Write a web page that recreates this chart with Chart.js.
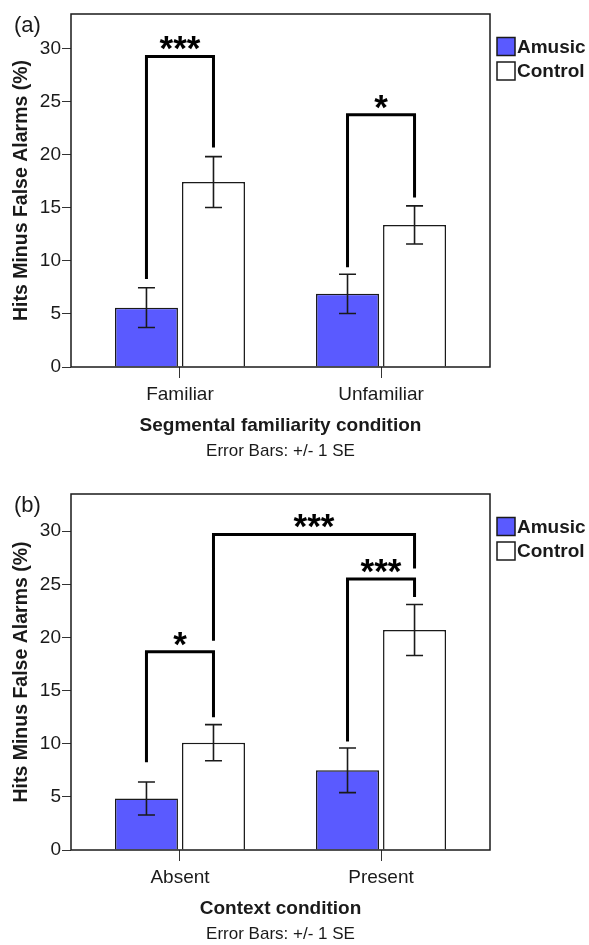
<!DOCTYPE html>
<html>
<head>
<meta charset="utf-8">
<script src="https://cdn.jsdelivr.net/npm/chart.js@4.4.1/dist/chart.umd.min.js"></script>
<style>
    html, body { margin: 0; padding: 0; background: #fff; overflow: hidden; }
    .panel { position: relative; width: 589px; }
    #panel-a { height: 470px; }
    #panel-b { height: 475px; }
</style>
</head>
<body>
<div class="panel" id="panel-a"><canvas id="chart-a"></canvas></div>
<div class="panel" id="panel-b"><canvas id="chart-b"></canvas></div>
<script>
/*===============
data
====================*/
const seriesNames = ['Amusic', 'Control'];
const yTicks = [0, 5, 10, 15, 20, 25, 30];

// (a) segmental familiarity
const catsA = ['Familiar', 'Unfamiliar'];
const amusicA = [5.6, 6.9];
const controlA = [17.45, 13.4];
const amusicSeA = [1.87, 1.85];
const controlSeA = [2.4, 1.8];
// [cat, series] -> [cat, series], left foot, top, right foot, stars
const bracketsA = [
    [0, 0, 0, 1, 8.3, 29.3, 20.7, '***'],
    [1, 0, 1, 1, 9.4, 23.8, 16.0, '*']
];

// (b) context
const catsB = ['Absent', 'Present'];
const amusicB = [4.85, 7.5];
const controlB = [10.1, 20.7];
const amusicSeB = [1.55, 2.1];
const controlSeB = [1.7, 2.4];
const bracketsB = [
    [0, 0, 0, 1, 8.25, 18.65, 12.5, '*'],
    [0, 1, 1, 1, 19.7, 29.7, 26.5, '***'],
    [1, 0, 1, 1, 10.2, 25.5, 23.8, '***']
];

Chart.defaults.font.family = "'Liberation Sans', Arial, sans-serif";
Chart.defaults.color = '#1a1a1a';

/*===============
overlay: frame, error bars, brackets, legend, panel letter
====================*/
const overlay = {
    id: 'overlay',
    afterDatasetsDraw(chart, args, opts) {
        const { ctx, chartArea: a, scales: { y } } = chart;
        ctx.save();

        // box round the plot
        ctx.strokeStyle = '#1a1a1a';
        ctx.lineWidth = 1.5;
        ctx.strokeRect(a.left, a.top, a.right - a.left, a.bottom - a.top);

        // error bars +/- 1 SE
        ctx.lineWidth = 1.6;
        opts.se.forEach((se, di) => {
            chart.getDatasetMeta(di).data.forEach((bar, i) => {
                const v = chart.data.datasets[di].data[i].y;
                const hi = y.getPixelForValue(v + se[i]);
                const lo = y.getPixelForValue(v - se[i]);
                ctx.beginPath();
                ctx.moveTo(bar.x, hi); ctx.lineTo(bar.x, lo);
                ctx.moveTo(bar.x - 8.5, hi); ctx.lineTo(bar.x + 8.5, hi);
                ctx.moveTo(bar.x - 8.5, lo); ctx.lineTo(bar.x + 8.5, lo);
                ctx.stroke();
            });
        });

        // significance brackets
        ctx.strokeStyle = '#000';
        ctx.lineWidth = 3;
        ctx.lineJoin = 'miter';
        ctx.font = "bold 35px 'Liberation Sans', Arial, sans-serif";
        ctx.fillStyle = '#000';
        ctx.textAlign = 'center';
        ctx.textBaseline = 'alphabetic';
        opts.brackets.forEach(b => {
            const x1 = chart.getDatasetMeta(b[1]).data[b[0]].x;
            const x2 = chart.getDatasetMeta(b[3]).data[b[2]].x;
            const yTop = y.getPixelForValue(b[5]);
            ctx.beginPath();
            ctx.moveTo(x1, y.getPixelForValue(b[4]));
            ctx.lineTo(x1, yTop);
            ctx.lineTo(x2, yTop);
            ctx.lineTo(x2, y.getPixelForValue(b[6]));
            ctx.stroke();
            const m = ctx.measureText(b[7]);
            const mid = yTop - 13;
            ctx.fillText(b[7], (x1 + x2) / 2, mid + (m.actualBoundingBoxAscent - m.actualBoundingBoxDescent) / 2);
        });

        // legend outside the box
        ctx.font = "bold 19px 'Liberation Sans', Arial, sans-serif";
        ctx.textAlign = 'left';
        ctx.textBaseline = 'middle';
        ctx.lineWidth = 1.5;
        chart.data.datasets.forEach((ds, i) => {
            const top = a.top + 23.5 + i * 24.5;
            ctx.fillStyle = ds.backgroundColor;
            ctx.fillRect(a.right + 7, top, 18, 18);
            ctx.strokeStyle = '#1a1a1a';
            ctx.strokeRect(a.right + 7, top, 18, 18);
            ctx.fillStyle = '#1a1a1a';
            ctx.fillText(ds.label, a.right + 27, top + 10);
        });

        // panel letter
        ctx.font = "22px 'Liberation Sans', Arial, sans-serif";
        ctx.textBaseline = 'alphabetic';
        ctx.fillText(opts.letter, 14, a.top + 18);

        ctx.restore();
    }
};

/*===============
panel builder
====================*/
function makePanel(canvasId, cats, amusic, control, seA, seC, brackets, letter, xTitle, yMax, pad) {
    new Chart(document.getElementById(canvasId), {
        type: 'bar',
        data: {
            datasets: [
                {
                    label: seriesNames[0],
                    data: amusic.map((v, i) => ({ x: i, y: v })),
                    backgroundColor: '#5a5aff',
                    borderColor: '#1a1a1a',
                    borderWidth: 1.5
                },
                {
                    label: seriesNames[1],
                    data: control.map((v, i) => ({ x: i, y: v })),
                    backgroundColor: '#ffffff',
                    borderColor: '#1a1a1a',
                    borderWidth: 1.5
                }
            ]
        },
        options: {
            responsive: true,
            maintainAspectRatio: false,
            animation: false,
            categoryPercentage: 0.6667,
            barPercentage: 0.94,
            layout: { padding: pad },
            plugins: {
                legend: { display: false },
                tooltip: { enabled: false },
                title: {
                    display: true,
                    position: 'bottom',
                    fullSize: false,
                    text: 'Error Bars: +/- 1 SE',
                    font: { size: 17, weight: 'normal' },
                    color: '#1a1a1a',
                    padding: { top: 4, bottom: 0 }
                },
                overlay: { se: [seA, seC], brackets: brackets, letter: letter }
            },
            scales: {
                x: {
                    type: 'linear',
                    min: -0.542,
                    max: cats.length - 1 + 0.542,
                    offset: false,
                    afterBuildTicks: s => { s.ticks = cats.map((c, i) => ({ value: i })); },
                    ticks: {
                        callback: v => cats[v],
                        font: { size: 19 },
                        padding: 5
                    },
                    grid: { offset: false, drawOnChartArea: false, tickLength: 11, color: '#333' },
                    border: { display: false },
                    title: {
                        display: true,
                        text: xTitle,
                        font: { size: 19, weight: 'bold' },
                        padding: { top: 4, bottom: 0 }
                    }
                },
                y: {
                    min: 0,
                    max: yMax,
                    afterBuildTicks: s => { s.ticks = yTicks.map(v => ({ value: v })); },
                    afterFit: s => { s.width = 71; },
                    ticks: { font: { size: 19 }, padding: 1 },
                    grid: { drawOnChartArea: false, tickLength: 9, color: '#333' },
                    border: { display: false },
                    title: {
                        display: true,
                        text: 'Hits Minus False Alarms (%)',
                        font: { size: 19.5, weight: 'bold' },
                        padding: { top: 9.5, bottom: 0 }
                    }
                }
            }
        },
        plugins: [overlay]
    });
}

makePanel('chart-a', catsA, amusicA, controlA, amusicSeA, controlSeA, bracketsA, '(a)',
    'Segmental familiarity condition', 33.3, { top: 14, right: 99, bottom: 8, left: 0 });
makePanel('chart-b', catsB, amusicB, controlB, amusicSeB, controlSeB, bracketsB, '(b)',
    'Context condition', 33.5, { top: 24, right: 99, bottom: 0, left: 0 });
</script>
</body>
</html>
